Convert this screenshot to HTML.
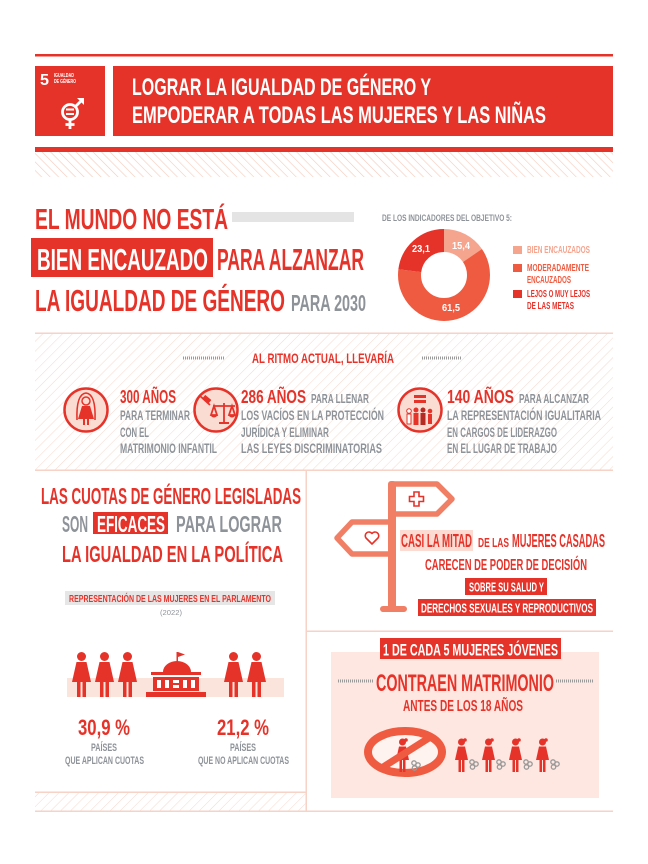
<!DOCTYPE html>
<html>
<head>
<meta charset="utf-8">
<style>
html,body{margin:0;padding:0;background:#fff;}
svg{display:block;}
text{font-family:"Liberation Sans Narrow","Liberation Sans",sans-serif;font-weight:bold;}
</style>
</head>
<body>
<svg width="648" height="864" viewBox="0 0 648 864" xmlns="http://www.w3.org/2000/svg">
<defs>
  <pattern id="hb" width="6" height="6" patternUnits="userSpaceOnUse" patternTransform="rotate(-45)">
    <line x1="0" y1="0" x2="0" y2="6" stroke="#f6c9b9" stroke-width="1.2"/>
  </pattern>
  <pattern id="hf" width="7" height="7" patternUnits="userSpaceOnUse" patternTransform="rotate(45)">
    <line x1="0" y1="0" x2="0" y2="7" stroke="#f7d8cc" stroke-width="1"/>
  </pattern>
</defs>

<rect x="0" y="0" width="648" height="864" fill="#fff"/>

<!-- ===== HEADER ===== -->
<rect x="35" y="54" width="578" height="2.5" fill="#e6332a"/>
<rect x="35" y="66" width="70" height="70" fill="#e6332a"/>
<text x="40" y="85" font-size="16" fill="#fff" textLength="9" lengthAdjust="spacingAndGlyphs">5</text>
<text x="54" y="77" font-size="5.5" fill="#fff" textLength="20" lengthAdjust="spacingAndGlyphs">IGUALDAD</text>
<text x="54" y="83" font-size="5.5" fill="#fff" textLength="22" lengthAdjust="spacingAndGlyphs">DE GÉNERO</text>
<g stroke="#fff" fill="none" stroke-width="2.8">
  <circle cx="70" cy="112" r="7.5"/>
  <line x1="75.5" y1="106.5" x2="83" y2="99"/>
  <line x1="70" y1="119.5" x2="70" y2="129"/>
  <line x1="65.5" y1="124.5" x2="74.5" y2="124.5"/>
</g>
<path d="M77,98 L84,98 L84,105 Z" fill="#fff"/>
<rect x="66" y="108.5" width="8" height="2" fill="#fff"/>
<rect x="66" y="113" width="8" height="2" fill="#fff"/>

<rect x="113" y="66" width="500" height="70" fill="#e6332a"/>
<text x="132" y="95" font-size="24.5" fill="#fff" textLength="299" lengthAdjust="spacingAndGlyphs">LOGRAR LA IGUALDAD DE GÉNERO Y</text>
<text x="132" y="123" font-size="24.5" fill="#fff" textLength="414" lengthAdjust="spacingAndGlyphs">EMPODERAR A TODAS LAS MUJERES Y LAS NIÑAS</text>

<rect x="35" y="147" width="578" height="5" fill="#e6332a"/>
<rect x="35" y="152" width="578" height="25" fill="url(#hb)"/>

<!-- ===== SECTION 2 ===== -->
<text x="35" y="229" font-size="29" fill="#e6332a" textLength="193" lengthAdjust="spacingAndGlyphs">EL MUNDO NO ESTÁ</text>
<rect x="232" y="212" width="122" height="10" fill="#e4e4e4"/>
<rect x="31" y="238" width="182" height="39" fill="#e6332a"/>
<text x="37" y="270" font-size="31" fill="#fff" textLength="171" lengthAdjust="spacingAndGlyphs">BIEN ENCAUZADO</text>
<text x="217" y="270" font-size="31" fill="#e6332a" textLength="147" lengthAdjust="spacingAndGlyphs">PARA ALZANZAR</text>
<text x="35" y="311" font-size="31" fill="#e6332a" textLength="250" lengthAdjust="spacingAndGlyphs">LA IGUALDAD DE GÉNERO</text>
<text x="291" y="311" font-size="23" fill="#8e9399" textLength="75" lengthAdjust="spacingAndGlyphs">PARA 2030</text>

<text x="382" y="221" font-size="9.5" fill="#8e9399" textLength="130" lengthAdjust="spacingAndGlyphs">DE LOS INDICADORES DEL OBJETIVO 5:</text>

<!-- donut -->
<g transform="rotate(-90 444 275)" fill="none" stroke-width="23">
  <circle cx="444" cy="275" r="34.5" stroke="#f5a48e" stroke-dasharray="33.38 216.77" stroke-dashoffset="0"/>
  <circle cx="444" cy="275" r="34.5" stroke="#ef5b41" stroke-dasharray="133.31 216.77" stroke-dashoffset="-33.38"/>
  <circle cx="444" cy="275" r="34.5" stroke="#e6332a" stroke-dasharray="50.07 216.77" stroke-dashoffset="-166.69"/>
</g>
<text x="461" y="249" font-size="10" fill="#fff" text-anchor="middle" textLength="18" lengthAdjust="spacingAndGlyphs">15,4</text>
<text x="421" y="252" font-size="10" fill="#fff" text-anchor="middle" textLength="18" lengthAdjust="spacingAndGlyphs">23,1</text>
<text x="451" y="311" font-size="10" fill="#fff" text-anchor="middle" textLength="18" lengthAdjust="spacingAndGlyphs">61,5</text>

<!-- legend -->
<rect x="513" y="246" width="9" height="8" fill="#f5a48e"/>
<text x="527" y="253" font-size="10" fill="#f5a48e" textLength="63" lengthAdjust="spacingAndGlyphs">BIEN ENCAUZADOS</text>
<rect x="513" y="264" width="9" height="8" fill="#ef5b41"/>
<text x="527" y="271" font-size="10" fill="#ef5b41" textLength="62" lengthAdjust="spacingAndGlyphs">MODERADAMENTE</text>
<text x="527" y="283" font-size="10" fill="#ef5b41" textLength="44" lengthAdjust="spacingAndGlyphs">ENCAUZADOS</text>
<rect x="513" y="290" width="9" height="8" fill="#e6332a"/>
<text x="527" y="297" font-size="10" fill="#e6332a" textLength="63" lengthAdjust="spacingAndGlyphs">LEJOS O MUY LEJOS</text>
<text x="527" y="309" font-size="10" fill="#e6332a" textLength="47" lengthAdjust="spacingAndGlyphs">DE LAS METAS</text>

<!-- ===== SECTION 3 (hatched) ===== -->
<rect x="35" y="333" width="578" height="137" fill="url(#hf)"/>
<rect x="35" y="332.5" width="578" height="1.5" fill="#f6d3c6"/>
<rect x="35" y="469.5" width="578" height="1.5" fill="#f6d3c6"/>

<line x1="183" y1="358" x2="225" y2="358" stroke="#9a9a9a" stroke-width="3" stroke-dasharray="1 1"/>
<line x1="422" y1="358" x2="462" y2="358" stroke="#9a9a9a" stroke-width="3" stroke-dasharray="1 1"/>
<text x="252" y="363" font-size="14" fill="#e6332a" textLength="142" lengthAdjust="spacingAndGlyphs">AL RITMO ACTUAL, LLEVARÍA</text>

<!-- circle icons -->
<g transform="translate(0 -4)">
<circle cx="86" cy="414" r="21.5" fill="#fbdcd2" stroke="#e6332a" stroke-width="2.5"/>
<path d="M77,424 Q76,398 86,397 Q96,398 95,424" fill="none" stroke="#e6332a" stroke-width="1.6"/>
<circle cx="86" cy="405" r="4" fill="#fbdcd2" stroke="#e6332a" stroke-width="1.5"/>
<path d="M82,410 L90,410 L94,423 L78,423 Z" fill="#e6332a"/>
<rect x="83" y="423" width="2" height="6" fill="#e6332a"/>
<rect x="87" y="423" width="2" height="6" fill="#e6332a"/>

<circle cx="216" cy="414" r="21.5" fill="#fbdcd2" stroke="#e6332a" stroke-width="2.5"/>
<g stroke="#e6332a" fill="none" stroke-width="1.8">
  <line x1="199" y1="399" x2="210" y2="409"/>
  <line x1="224" y1="407" x2="224" y2="427"/>
  <line x1="213" y1="410" x2="235" y2="410"/>
  <path d="M211,419 L214,410 L217,419 Z"/>
  <path d="M229,419 L232,410 L235,419 Z"/>
</g>
<rect x="203" y="401" width="8" height="5" fill="#e6332a" transform="rotate(40 207 403)"/>
<path d="M210,419 Q214,424 218,419 Z" fill="#e6332a"/>
<path d="M228,419 Q232,424 236,419 Z" fill="#e6332a"/>
<rect x="219" y="426" width="10" height="2" fill="#e6332a"/>

<circle cx="420" cy="414" r="21.5" fill="#fbdcd2" stroke="#e6332a" stroke-width="2.5"/>
<rect x="414" y="399" width="12" height="3" fill="#e6332a"/>
<rect x="414" y="404" width="12" height="3" fill="#e6332a"/>
<g fill="#e6332a">
  <circle cx="409" cy="415" r="2.3" fill="#fff" stroke="#e6332a" stroke-width="1"/>
  <rect x="407" y="418" width="4" height="10" fill="#fff" stroke="#e6332a" stroke-width="1"/>
  <circle cx="416" cy="414" r="2.5"/>
  <rect x="413.5" y="417" width="5" height="12"/>
  <circle cx="423" cy="414" r="2.5" fill="#b52a22"/>
  <rect x="420.5" y="417" width="5" height="12" fill="#b52a22"/>
  <circle cx="430" cy="415" r="2.3"/>
  <rect x="428" y="418" width="4" height="10"/>
</g>
</g>

<text x="120" y="403" font-size="18" fill="#e6332a" textLength="56" lengthAdjust="spacingAndGlyphs">300 AÑOS</text>
<text x="120" y="420" font-size="13.5" fill="#8e9399" textLength="70" lengthAdjust="spacingAndGlyphs">PARA TERMINAR</text>
<text x="120" y="437" font-size="13.5" fill="#8e9399" textLength="29" lengthAdjust="spacingAndGlyphs">CON EL</text>
<text x="120" y="453" font-size="13.5" fill="#8e9399" textLength="97" lengthAdjust="spacingAndGlyphs">MATRIMONIO INFANTIL</text>

<text x="241" y="403" font-size="18" fill="#e6332a" textLength="65" lengthAdjust="spacingAndGlyphs">286 AÑOS</text>
<text x="311" y="403" font-size="13" fill="#8e9399" textLength="58" lengthAdjust="spacingAndGlyphs">PARA LLENAR</text>
<text x="241" y="420" font-size="13.5" fill="#8e9399" textLength="143" lengthAdjust="spacingAndGlyphs">LOS VACÍOS EN LA PROTECCIÓN</text>
<text x="241" y="437" font-size="13.5" fill="#8e9399" textLength="88" lengthAdjust="spacingAndGlyphs">JURÍDICA Y ELIMINAR</text>
<text x="241" y="453" font-size="13.5" fill="#8e9399" textLength="141" lengthAdjust="spacingAndGlyphs">LAS LEYES DISCRIMINATORIAS</text>

<text x="447" y="403" font-size="18" fill="#e6332a" textLength="67" lengthAdjust="spacingAndGlyphs">140 AÑOS</text>
<text x="519" y="403" font-size="13" fill="#8e9399" textLength="70" lengthAdjust="spacingAndGlyphs">PARA ALCANZAR</text>
<text x="447" y="420" font-size="13.5" fill="#8e9399" textLength="154" lengthAdjust="spacingAndGlyphs">LA REPRESENTACIÓN IGUALITARIA</text>
<text x="447" y="437" font-size="13.5" fill="#8e9399" textLength="110" lengthAdjust="spacingAndGlyphs">EN CARGOS DE LIDERAZGO</text>
<text x="447" y="453" font-size="13.5" fill="#8e9399" textLength="110" lengthAdjust="spacingAndGlyphs">EN EL LUGAR DE TRABAJO</text>

<!-- divider -->
<rect x="305.5" y="470" width="1.5" height="342" fill="#f6d3c6"/>

<!-- ===== LEFT PANEL ===== -->
<text x="41" y="504" font-size="23" fill="#e6332a" textLength="260" lengthAdjust="spacingAndGlyphs">LAS CUOTAS DE GÉNERO LEGISLADAS</text>
<text x="62" y="532" font-size="23" fill="#8e9399" textLength="26" lengthAdjust="spacingAndGlyphs">SON</text>
<rect x="93" y="512" width="75" height="22" fill="#e6332a"/>
<text x="97" y="532" font-size="23" fill="#fff" textLength="68" lengthAdjust="spacingAndGlyphs">EFICACES</text>
<text x="176" y="532" font-size="23" fill="#8e9399" textLength="106" lengthAdjust="spacingAndGlyphs">PARA LOGRAR</text>
<text x="62" y="562" font-size="23" fill="#e6332a" textLength="221" lengthAdjust="spacingAndGlyphs">LA IGUALDAD EN LA POLÍTICA</text>

<rect x="65" y="591" width="210" height="14" fill="#e6e6e6"/>
<text x="69" y="602" font-size="10" fill="#e6332a" textLength="202" lengthAdjust="spacingAndGlyphs">REPRESENTACIÓN DE LAS MUJERES EN EL PARLAMENTO</text>
<text x="160" y="615" font-size="7.5" fill="#8e9399" style="font-weight:normal" textLength="22" lengthAdjust="spacingAndGlyphs">(2022)</text>

<rect x="67" y="678" width="217" height="19" fill="#fbe4dc"/>
<g fill="#e6332a">
  <g transform="translate(72 652)"><circle cx="9.5" cy="4.5" r="4.5"/><path d="M4.5,10 H14.5 L19,30 H0 Z"/><rect x="5" y="30" width="3.5" height="15"/><rect x="10.5" y="30" width="3.5" height="15"/></g>
  <g transform="translate(95 652)"><circle cx="9.5" cy="4.5" r="4.5"/><path d="M4.5,10 H14.5 L19,30 H0 Z"/><rect x="5" y="30" width="3.5" height="15"/><rect x="10.5" y="30" width="3.5" height="15"/></g>
  <g transform="translate(118 652)"><circle cx="9.5" cy="4.5" r="4.5"/><path d="M4.5,10 H14.5 L19,30 H0 Z"/><rect x="5" y="30" width="3.5" height="15"/><rect x="10.5" y="30" width="3.5" height="15"/></g>
  <g transform="translate(224 652)"><circle cx="9.5" cy="4.5" r="4.5"/><path d="M4.5,10 H14.5 L19,30 H0 Z"/><rect x="5" y="30" width="3.5" height="15"/><rect x="10.5" y="30" width="3.5" height="15"/></g>
  <g transform="translate(247 652)"><circle cx="9.5" cy="4.5" r="4.5"/><path d="M4.5,10 H14.5 L19,30 H0 Z"/><rect x="5" y="30" width="3.5" height="15"/><rect x="10.5" y="30" width="3.5" height="15"/></g>
  <rect x="176.5" y="652" width="1.5" height="10"/>
  <path d="M178,652 L185,654.5 L178,657 Z"/>
  <path d="M163,672 A14,11 0 0 1 191,672 Z"/>
  <rect x="151" y="672" width="50" height="3"/>
  <rect x="153" y="677" width="46" height="14"/>
  <rect x="146" y="692" width="60" height="5"/>
</g>
<g fill="#fff">
  <rect x="157" y="680" width="4" height="8"/>
  <rect x="165" y="680" width="4" height="8"/>
  <rect x="173" y="680" width="6" height="3"/><rect x="173" y="685" width="6" height="3"/>
  <rect x="183" y="680" width="4" height="8"/>
  <rect x="191" y="680" width="4" height="8"/>
</g>

<text x="78" y="735" font-size="22" fill="#e6332a" textLength="52" lengthAdjust="spacingAndGlyphs">30,9 %</text>
<text x="91" y="751" font-size="11" fill="#8e9399" textLength="26" lengthAdjust="spacingAndGlyphs">PAÍSES</text>
<text x="65" y="764" font-size="11" fill="#8e9399" textLength="79" lengthAdjust="spacingAndGlyphs">QUE APLICAN CUOTAS</text>
<text x="217" y="735" font-size="22" fill="#e6332a" textLength="52" lengthAdjust="spacingAndGlyphs">21,2 %</text>
<text x="230" y="751" font-size="11" fill="#8e9399" textLength="26" lengthAdjust="spacingAndGlyphs">PAÍSES</text>
<text x="198" y="764" font-size="11" fill="#8e9399" textLength="91" lengthAdjust="spacingAndGlyphs">QUE NO APLICAN CUOTAS</text>

<rect x="35" y="792" width="271" height="19" fill="url(#hf)"/>
<rect x="35" y="791.5" width="271" height="1.5" fill="#f6d3c6"/>

<!-- ===== RIGHT PANEL ===== -->
<g stroke="#f07f66" stroke-width="5.5" fill="#fff" stroke-linejoin="round">
  <path d="M392,484 H437 L452,499 L437,514 H392"/>
  <path d="M392,522 H352 L337,538 L352,554 H392"/>
</g>
<rect x="388" y="481" width="8" height="128" rx="3" fill="#f07f66"/>
<rect x="380" y="606" width="27" height="6" rx="3" fill="#f07f66"/>
<path d="M414,492 h5 v4.5 h4.5 v5 h-4.5 v4.5 h-5 v-4.5 h-4.5 v-5 h4.5 Z" fill="#fff" stroke="#e6332a" stroke-width="1.6"/>
<path d="M372,544 L366,538 A3.2,3.2 0 0 1 372,533.5 A3.2,3.2 0 0 1 378,538 Z" fill="#fff" stroke="#e6332a" stroke-width="1.6" stroke-linejoin="round"/>

<rect x="400" y="530" width="73" height="21" fill="#fcdcd2"/>
<text x="401" y="547" font-size="18" fill="#e6332a" textLength="71" lengthAdjust="spacingAndGlyphs">CASI LA MITAD</text>
<text x="478" y="547" font-size="13" fill="#e6332a" textLength="31" lengthAdjust="spacingAndGlyphs">DE LAS</text>
<text x="512" y="547" font-size="18" fill="#e6332a" textLength="93" lengthAdjust="spacingAndGlyphs">MUJERES CASADAS</text>
<text x="425" y="570" font-size="16" fill="#e6332a" textLength="162" lengthAdjust="spacingAndGlyphs">CARECEN DE PODER DE DECISIÓN</text>
<rect x="465" y="578" width="82" height="17" fill="#e6332a"/>
<text x="469" y="591.5" font-size="13" fill="#fff" textLength="75" lengthAdjust="spacingAndGlyphs">SOBRE SU SALUD Y</text>
<rect x="418" y="599" width="178" height="17" fill="#e6332a"/>
<text x="421" y="612.5" font-size="13" fill="#fff" textLength="172" lengthAdjust="spacingAndGlyphs">DERECHOS SEXUALES Y REPRODUCTIVOS</text>

<rect x="306" y="630.5" width="307" height="1.5" fill="#f6d3c6"/>

<rect x="331" y="652" width="268" height="146" fill="#fde7e0"/>
<rect x="380" y="638" width="181" height="21" fill="#e6332a"/>
<text x="383" y="655.5" font-size="17" fill="#fff" textLength="175" lengthAdjust="spacingAndGlyphs">1 DE CADA 5 MUJERES JÓVENES</text>
<line x1="338" y1="681" x2="374" y2="681" stroke="#9a9a9a" stroke-width="3" stroke-dasharray="1 1"/>
<line x1="556" y1="681" x2="593" y2="681" stroke="#9a9a9a" stroke-width="3" stroke-dasharray="1 1"/>
<text x="376" y="691" font-size="24" fill="#e6332a" textLength="178" lengthAdjust="spacingAndGlyphs">CONTRAEN MATRIMONIO</text>
<text x="403" y="711" font-size="16" fill="#e6332a" textLength="120" lengthAdjust="spacingAndGlyphs">ANTES DE LOS 18 AÑOS</text>

<ellipse cx="405" cy="752" rx="37" ry="21" fill="#fff3ef" stroke="#ef5b41" stroke-width="8"/>
<g fill="#e6332a" transform="translate(396 738)">
  <circle cx="6.5" cy="4" r="3.5"/><circle cx="10" cy="2" r="1.8"/>
  <path d="M3,8.5 H10 L13,22 H0 Z"/>
  <rect x="3.5" y="22" width="2.5" height="12"/><rect x="7" y="22" width="2.5" height="12"/>
</g>
<g fill="none" stroke="#999" stroke-width="1.3" transform="translate(411 760)">
  <circle cx="3" cy="3" r="2.2"/><circle cx="7" cy="5" r="2.2"/><circle cx="3.5" cy="8" r="2.2"/>
</g>
<line x1="432" y1="736" x2="380" y2="769" stroke="#ef5b41" stroke-width="7"/>

<g fill="#e6332a">
  <g transform="translate(455 738)"><circle cx="6.5" cy="4" r="3.5"/><circle cx="10" cy="2" r="1.8"/><path d="M3,8.5 H10 L13,22 H0 Z"/><rect x="3.5" y="22" width="2.5" height="12"/><rect x="7" y="22" width="2.5" height="12"/></g>
  <g transform="translate(482 738)"><circle cx="6.5" cy="4" r="3.5"/><circle cx="10" cy="2" r="1.8"/><path d="M3,8.5 H10 L13,22 H0 Z"/><rect x="3.5" y="22" width="2.5" height="12"/><rect x="7" y="22" width="2.5" height="12"/></g>
  <g transform="translate(509 738)"><circle cx="6.5" cy="4" r="3.5"/><circle cx="10" cy="2" r="1.8"/><path d="M3,8.5 H10 L13,22 H0 Z"/><rect x="3.5" y="22" width="2.5" height="12"/><rect x="7" y="22" width="2.5" height="12"/></g>
  <g transform="translate(536 738)"><circle cx="6.5" cy="4" r="3.5"/><circle cx="10" cy="2" r="1.8"/><path d="M3,8.5 H10 L13,22 H0 Z"/><rect x="3.5" y="22" width="2.5" height="12"/><rect x="7" y="22" width="2.5" height="12"/></g>
</g>
<g fill="none" stroke="#999" stroke-width="1.3">
  <g transform="translate(469 759)"><circle cx="3" cy="3" r="2.2"/><circle cx="7" cy="5" r="2.2"/><circle cx="3.5" cy="8" r="2.2"/></g>
  <g transform="translate(496 759)"><circle cx="3" cy="3" r="2.2"/><circle cx="7" cy="5" r="2.2"/><circle cx="3.5" cy="8" r="2.2"/></g>
  <g transform="translate(523 759)"><circle cx="3" cy="3" r="2.2"/><circle cx="7" cy="5" r="2.2"/><circle cx="3.5" cy="8" r="2.2"/></g>
  <g transform="translate(550 759)"><circle cx="3" cy="3" r="2.2"/><circle cx="7" cy="5" r="2.2"/><circle cx="3.5" cy="8" r="2.2"/></g>
</g>

<rect x="35" y="810.5" width="578" height="1.5" fill="#f6d3c6"/>
</svg>
</body>
</html>
